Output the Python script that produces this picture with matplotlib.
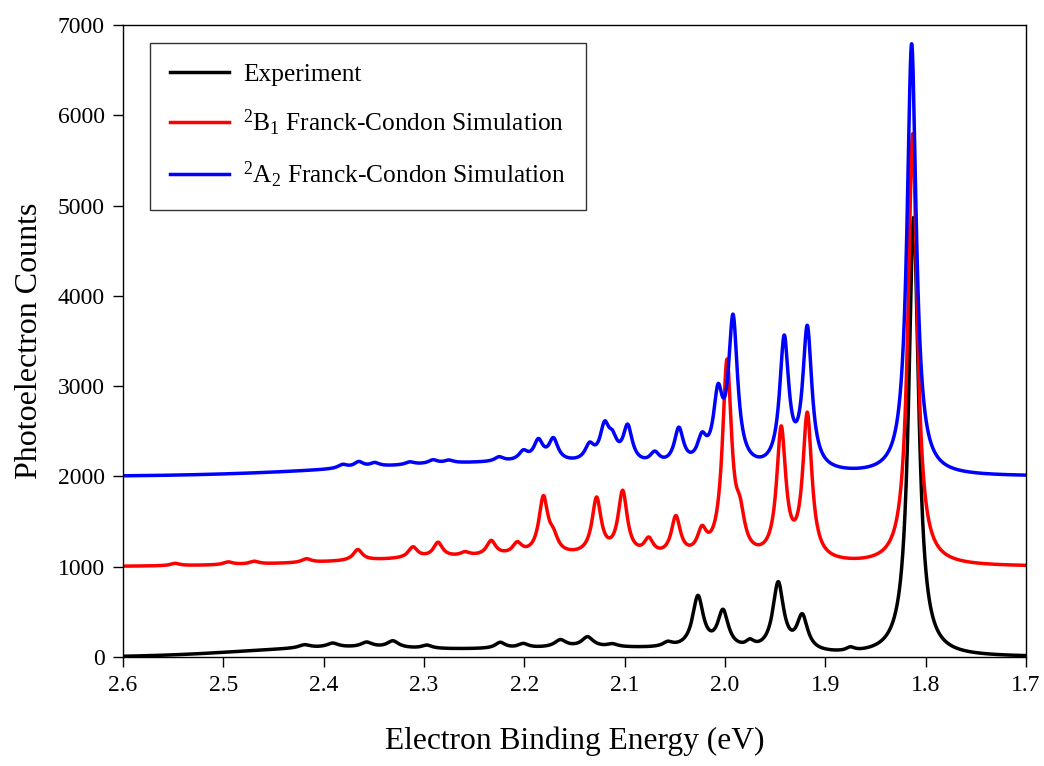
import numpy as np
import matplotlib.pyplot as plt

plt.rcParams['font.family'] = ['Liberation Serif', 'DejaVu Serif']
plt.rcParams['mathtext.fontset'] = 'custom'
plt.rcParams['mathtext.rm'] = 'Liberation Serif'
plt.rcParams['mathtext.it'] = 'Liberation Serif:italic'

# peak tables: position (eV), height (counts), FWHM (eV)
exp_pos = [1.812, 1.875, 1.923, 1.947, 1.975, 2.002, 2.027, 2.057, 2.112, 2.137,
           2.164, 2.201, 2.224, 2.297, 2.331, 2.357, 2.391, 2.419]
exp_height = [4860, 40, 380, 750, 70, 410, 570, 50, 30, 110,
              80, 45, 65, 35, 75, 55, 45, 35]
exp_width = [0.012, 0.010, 0.013, 0.013, 0.010, 0.013, 0.013, 0.012, 0.012, 0.014,
             0.014, 0.012, 0.012, 0.012, 0.014, 0.014, 0.014, 0.014]
exp_offset = 0
# broad background humps: centre, height, sigma
exp_bg = [(2.4, 90, 0.09), (2.13, 100, 0.13)]

b1_pos = [1.813, 1.918, 1.944, 1.985, 1.998, 2.023, 2.049, 2.076, 2.102, 2.128,
          2.171, 2.181, 2.207, 2.233, 2.259, 2.286, 2.311, 2.366, 2.417, 2.469,
          2.495, 2.548]
b1_height = [4780, 1600, 1420, 350, 2150, 250, 430, 170, 700, 620,
             150, 620, 120, 160, 40, 160, 120, 120, 40, 30,
             30, 25]
b1_offset = 1000
b1_bg = [(2.2, 110, 0.16)]

a2_pos = [1.814, 1.918, 1.941, 1.992, 2.007, 2.023, 2.046, 2.070, 2.097, 2.112,
          2.120, 2.135, 2.171, 2.186, 2.201, 2.225, 2.275, 2.291, 2.314, 2.349,
          2.365, 2.381]
a2_height = [4780, 1550, 1420, 1620, 720, 260, 400, 120, 400, 200,
             370, 170, 240, 220, 100, 50, 30, 40, 30, 40,
             60, 40]
a2_offset = 2000
a2_bg = [(2.22, 150, 0.15)]
sim_width = 0.011


def spectrum(x, offset, pos, height, width, bg):
    y = np.full_like(x, float(offset))
    for c, h, s in bg:
        y += h * np.exp(-(x - c) ** 2 / (2 * s ** 2))
    if np.isscalar(width):
        width = [width] * len(pos)
    for p, a, w in zip(pos, height, width):
        y += a / (1 + ((x - p) / (w / 2)) ** 2)
    return y


energy = np.linspace(1.7, 2.6, 4000)
exp_y = spectrum(energy, exp_offset, exp_pos, exp_height, exp_width, exp_bg)
b1_y = spectrum(energy, b1_offset, b1_pos, b1_height, sim_width, b1_bg)
a2_y = spectrum(energy, a2_offset, a2_pos, a2_height, sim_width, a2_bg)

fig = plt.figure(figsize=(10.44, 7.66), dpi=100)
ax = fig.add_axes([0.1178, 0.1423, 0.865, 0.825])

ax.plot(energy, exp_y, color='black', lw=2.5, label='Experiment')
ax.plot(energy, b1_y, color='#ff0000', lw=2.5,
        label=r'$^{2}$B$_{1}$ Franck-Condon Simulation')
ax.plot(energy, a2_y, color='#0000ff', lw=2.5,
        label=r'$^{2}$A$_{2}$ Franck-Condon Simulation')

ax.set_xlim(2.6, 1.7)
ax.set_ylim(0, 7000)
ax.set_xticks(np.arange(1.7, 2.61, 0.1))
ax.xaxis.set_major_formatter(plt.FormatStrFormatter('%.1f'))
ax.set_yticks(np.arange(0, 7001, 1000))
ax.tick_params(direction='out', length=7, width=1, labelsize=17, pad=6)
for s in ax.spines.values():
    s.set_linewidth(1)

ax.set_xlabel('Electron Binding Energy (eV)', fontsize=22.7, labelpad=22)
ax.set_ylabel('Photoelectron Counts', fontsize=23, labelpad=10)

leg = ax.legend(loc='upper left', bbox_to_anchor=(0.030, 0.9715), borderaxespad=0,
                fontsize=18.3, fancybox=False, frameon=True, edgecolor='black',
                handlelength=2.3, handletextpad=0.55, borderpad=0.8, labelspacing=0.85)
leg.get_frame().set_linewidth(1)

fig.savefig('out.png', dpi=100)
